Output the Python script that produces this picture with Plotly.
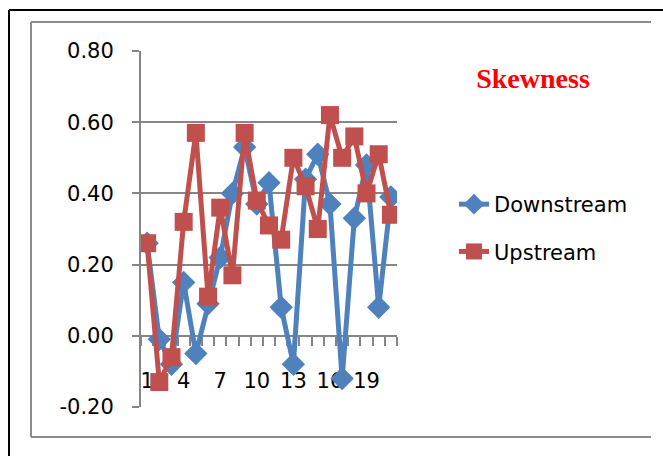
import plotly.graph_objects as go

# Skewness per site, sites numbered 1..21
sites = list(range(1, 22))
downstream = [0.26, -0.01, -0.08, 0.15, -0.05, 0.09, 0.22, 0.40, 0.53, 0.37, 0.43,
              0.08, -0.08, 0.44, 0.51, 0.37, -0.12, 0.33, 0.48, 0.08, 0.39]
upstream = [0.26, -0.13, -0.06, 0.32, 0.57, 0.11, 0.36, 0.17, 0.57, 0.38, 0.31,
            0.27, 0.50, 0.42, 0.30, 0.62, 0.50, 0.56, 0.40, 0.51, 0.34]
x_labels = [1, 4, 7, 10, 13, 16, 19]
y_ticks = [-0.2, 0.0, 0.2, 0.4, 0.6, 0.8]
y_tick_text = ["-0.20", "0.00", "0.20", "0.40", "0.60", "0.80"]

W, H = 663, 456
L, R, T, B = 141, 397, 51, 407  # plot area edges in px
BLUE = "#4F81BD"
RED = "#C0504D"
GRAY = "#868686"
FONT = "DejaVu Sans"


def px(x):
    return (x - L) / (R - L)


def py(y):
    return (B - y) / (B - T)


fig = go.Figure()
fig.add_trace(go.Scatter(
    x=sites, y=downstream, name="Downstream", mode="lines+markers",
    line=dict(color=BLUE, width=5),
    marker=dict(symbol="diamond", size=18, color=BLUE),
    legendgroup="d",
))
fig.add_trace(go.Scatter(
    x=sites, y=upstream, name="Upstream", mode="lines+markers",
    line=dict(color=RED, width=5),
    marker=dict(symbol="square", size=18, color=RED),
    legendgroup="u",
))

# outer chart frames
frame = []
frame.append(dict(x0=px(9), x1=px(663), y0=py(10), y1=py(10), color="black", w=2))
frame.append(dict(x0=px(9), x1=px(9), y0=py(10), y1=py(456), color="black", w=2))
frame.append(dict(x0=px(31), x1=px(651), y0=py(22), y1=py(22), color="#8C8C8C", w=2))
frame.append(dict(x0=px(31), x1=px(31), y0=py(22), y1=py(437), color="#8C8C8C", w=2))
frame.append(dict(x0=px(31), x1=px(651), y0=py(437), y1=py(437), color="#8C8C8C", w=2))
for f in frame:
    fig.add_shape(type="line", xref="paper", yref="paper",
                  x0=f["x0"], x1=f["x1"], y0=f["y0"], y1=f["y1"],
                  line=dict(color=f["color"], width=f["w"]))

fig.update_layout(
    width=W, height=H,
    margin=dict(l=L, r=W - R, t=T, b=H - B),
    paper_bgcolor="white", plot_bgcolor="white",
    showlegend=True,
    title=dict(text="<b>Skewness</b>", xref="container", yref="container",
               x=533 / W, y=1 - 78 / H, xanchor="center", yanchor="middle",
               font=dict(family="Liberation Serif", size=28, color="#FF0000")),
    legend=dict(xref="container", yref="container", x=454 / W, y=1 - 184 / H,
                xanchor="left", yanchor="top", tracegroupgap=17,
                font=dict(family=FONT, size=21, color="black"),
                bgcolor="rgba(0,0,0,0)"),
    xaxis=dict(
        range=[0.5, 21.5], anchor="free", position=0.2,
        tickmode="array", tickvals=x_labels, ticktext=[str(v) for v in x_labels],
        ticks="", showgrid=False, zeroline=False,
        showline=True, linecolor=GRAY, linewidth=2,
        minor=dict(tick0=0.5, dtick=1, ticks="outside", ticklen=9,
                   tickcolor=GRAY, tickwidth=2),
        ticklabelstandoff=26, layer="below traces",
        tickfont=dict(family=FONT, size=21, color="black"),
    ),
    yaxis=dict(
        range=[-0.2, 0.8], domain=[0, 1],
        tickmode="array", tickvals=y_ticks, ticktext=y_tick_text,
        ticks="outside", ticklen=7, tickcolor=GRAY, tickwidth=2,
        showgrid=True, gridcolor=GRAY, gridwidth=2, zeroline=False,
        showline=True, linecolor=GRAY, linewidth=2,
        ticklabelstandoff=14,
        tickfont=dict(family=FONT, size=21, color="black"),
    ),
)

fig.write_html("out.html")
